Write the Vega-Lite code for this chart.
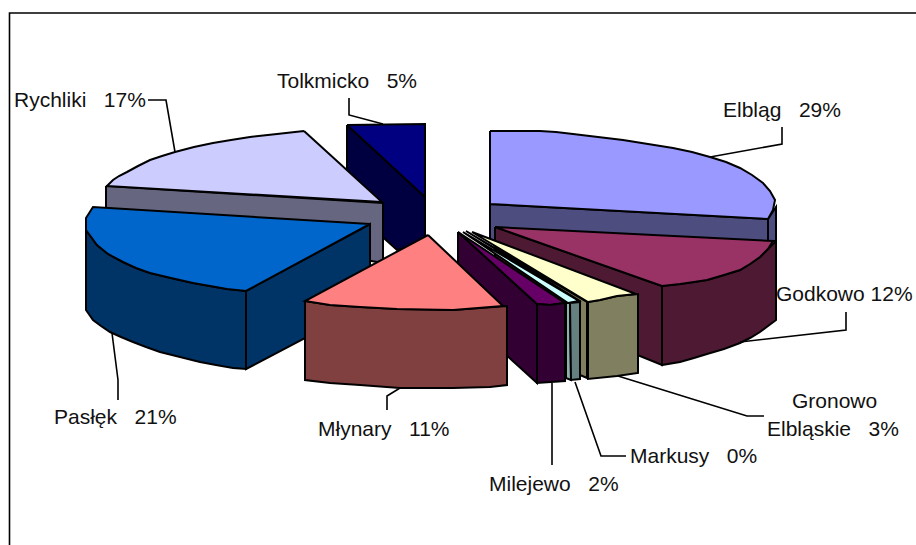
{"$schema":"https://vega.github.io/schema/vega-lite/v6.json","width":916,"height":545,"padding":0,"autosize":{"type":"fit","contains":"padding"},"background":"white","config":{"view":{"stroke":null}},
"datasets":{"faces":[
{"p":"Tolkmicko side","i":1,"x":347,"y":125},{"p":"Tolkmicko side","i":2,"x":425,"y":197},{"p":"Tolkmicko side","i":3,"x":425,"y":243},{"p":"Tolkmicko side","i":4,"x":397,"y":250},{"p":"Tolkmicko side","i":5,"x":347,"y":205},{"p":"Tolkmicko side","i":6,"x":347,"y":125},
{"p":"Tolkmicko top","i":1,"x":347,"y":125},{"p":"Tolkmicko top","i":2,"x":425,"y":124},{"p":"Tolkmicko top","i":3,"x":425,"y":197},{"p":"Tolkmicko top","i":4,"x":347,"y":125},
{"p":"Elbląg side","i":1,"x":490,"y":204},{"p":"Elbląg side","i":2,"x":768,"y":219},{"p":"Elbląg side","i":3,"x":768,"y":241},{"p":"Elbląg side","i":4,"x":490,"y":242},{"p":"Elbląg side","i":5,"x":490,"y":204},
{"p":"Elbląg right","i":1,"x":768,"y":219},{"p":"Elbląg right","i":2,"x":776,"y":207},{"p":"Elbląg right","i":3,"x":776,"y":241},{"p":"Elbląg right","i":4,"x":768,"y":241},{"p":"Elbląg right","i":5,"x":768,"y":219},
{"p":"Elbląg top","i":1,"x":490,"y":131},{"p":"Elbląg top","i":2,"x":540,"y":131},{"p":"Elbląg top","i":2.5,"x":556,"y":132},{"p":"Elbląg top","i":3,"x":573,"y":134},{"p":"Elbląg top","i":3.5,"x":598,"y":137},{"p":"Elbląg top","i":4,"x":623,"y":140},{"p":"Elbląg top","i":4.5,"x":648,"y":144},{"p":"Elbląg top","i":5,"x":673,"y":148},{"p":"Elbląg top","i":5.5,"x":692,"y":152},{"p":"Elbląg top","i":6,"x":710,"y":157},{"p":"Elbląg top","i":6.5,"x":726,"y":162},{"p":"Elbląg top","i":7,"x":740,"y":168},{"p":"Elbląg top","i":7.5,"x":752,"y":175},{"p":"Elbląg top","i":8,"x":763,"y":183},{"p":"Elbląg top","i":8.5,"x":770,"y":191},{"p":"Elbląg top","i":9,"x":775,"y":200},{"p":"Elbląg top","i":10,"x":773,"y":210},{"p":"Elbląg top","i":11,"x":768,"y":219},{"p":"Elbląg top","i":12,"x":490,"y":204},{"p":"Elbląg top","i":13,"x":490,"y":131},
{"p":"Rychliki side","i":1,"x":106,"y":186},{"p":"Rychliki side","i":2,"x":383,"y":203},{"p":"Rychliki side","i":3,"x":383,"y":263},{"p":"Rychliki side","i":4,"x":106,"y":215},{"p":"Rychliki side","i":5,"x":106,"y":186},
{"p":"Rychliki top","i":1,"x":304,"y":131},{"p":"Rychliki top","i":1.5,"x":277,"y":134},{"p":"Rychliki top","i":2,"x":250,"y":137},{"p":"Rychliki top","i":2.5,"x":231,"y":140},{"p":"Rychliki top","i":3,"x":213,"y":143},{"p":"Rychliki top","i":3.5,"x":194,"y":147},{"p":"Rychliki top","i":4,"x":175,"y":152},{"p":"Rychliki top","i":4.5,"x":162,"y":156},{"p":"Rychliki top","i":5,"x":150,"y":160},{"p":"Rychliki top","i":5.5,"x":138,"y":166},{"p":"Rychliki top","i":6,"x":127,"y":172},{"p":"Rychliki top","i":6.5,"x":119,"y":176},{"p":"Rychliki top","i":7,"x":113,"y":180},{"p":"Rychliki top","i":8,"x":107,"y":186},{"p":"Rychliki top","i":9,"x":382,"y":202},{"p":"Rychliki top","i":10,"x":304,"y":131},
{"p":"Pasłęk inner","i":1,"x":246,"y":291},{"p":"Pasłęk inner","i":2,"x":370,"y":224},{"p":"Pasłęk inner","i":3,"x":370,"y":304},{"p":"Pasłęk inner","i":4,"x":246,"y":369},{"p":"Pasłęk inner","i":5,"x":246,"y":291},
{"p":"Pasłęk outer","i":1,"x":86,"y":230},{"p":"Pasłęk outer","i":2,"x":97,"y":245},{"p":"Pasłęk outer","i":2.5,"x":108,"y":254},{"p":"Pasłęk outer","i":3,"x":123,"y":262},{"p":"Pasłęk outer","i":3.5,"x":136,"y":268},{"p":"Pasłęk outer","i":4,"x":150,"y":273},{"p":"Pasłęk outer","i":4.5,"x":171,"y":278},{"p":"Pasłęk outer","i":5,"x":193,"y":283},{"p":"Pasłęk outer","i":5.5,"x":210,"y":286},{"p":"Pasłęk outer","i":6,"x":227,"y":289},{"p":"Pasłęk outer","i":7,"x":246,"y":291},{"p":"Pasłęk outer","i":8,"x":246,"y":369},{"p":"Pasłęk outer","i":9,"x":233,"y":368},{"p":"Pasłęk outer","i":9.5,"x":216,"y":365},{"p":"Pasłęk outer","i":10,"x":200,"y":362},{"p":"Pasłęk outer","i":10.5,"x":180,"y":357},{"p":"Pasłęk outer","i":11,"x":160,"y":352},{"p":"Pasłęk outer","i":11.5,"x":146,"y":347},{"p":"Pasłęk outer","i":12,"x":133,"y":342},{"p":"Pasłęk outer","i":12.5,"x":121,"y":337},{"p":"Pasłęk outer","i":13,"x":110,"y":332},{"p":"Pasłęk outer","i":13.5,"x":101,"y":326},{"p":"Pasłęk outer","i":14,"x":93,"y":320},{"p":"Pasłęk outer","i":15,"x":86,"y":310},{"p":"Pasłęk outer","i":16,"x":86,"y":230},
{"p":"Pasłęk top","i":1,"x":370,"y":224},{"p":"Pasłęk top","i":2,"x":93,"y":207},{"p":"Pasłęk top","i":3,"x":86,"y":218},{"p":"Pasłęk top","i":4,"x":86,"y":230},{"p":"Pasłęk top","i":5,"x":97,"y":245},{"p":"Pasłęk top","i":5.5,"x":108,"y":254},{"p":"Pasłęk top","i":6,"x":123,"y":262},{"p":"Pasłęk top","i":6.5,"x":136,"y":268},{"p":"Pasłęk top","i":7,"x":150,"y":273},{"p":"Pasłęk top","i":7.5,"x":171,"y":278},{"p":"Pasłęk top","i":8,"x":193,"y":283},{"p":"Pasłęk top","i":8.5,"x":210,"y":286},{"p":"Pasłęk top","i":9,"x":227,"y":289},{"p":"Pasłęk top","i":10,"x":246,"y":291},{"p":"Pasłęk top","i":11,"x":370,"y":224},
{"p":"Godkowo left","i":1,"x":495,"y":227},{"p":"Godkowo left","i":2,"x":662,"y":286},{"p":"Godkowo left","i":3,"x":662,"y":365},{"p":"Godkowo left","i":4,"x":640,"y":356},{"p":"Godkowo left","i":5,"x":495,"y":300},{"p":"Godkowo left","i":6,"x":495,"y":227},
{"p":"Godkowo outer","i":1,"x":662,"y":286},{"p":"Godkowo outer","i":2,"x":680,"y":284},{"p":"Godkowo outer","i":2.5,"x":694,"y":282},{"p":"Godkowo outer","i":3,"x":707,"y":280},{"p":"Godkowo outer","i":3.5,"x":724,"y":275},{"p":"Godkowo outer","i":4,"x":740,"y":270},{"p":"Godkowo outer","i":4.5,"x":750,"y":264},{"p":"Godkowo outer","i":5,"x":760,"y":257},{"p":"Godkowo outer","i":5.5,"x":768,"y":249},{"p":"Godkowo outer","i":6,"x":776,"y":241},{"p":"Godkowo outer","i":7,"x":776,"y":320},{"p":"Godkowo outer","i":7.5,"x":768,"y":326},{"p":"Godkowo outer","i":8,"x":760,"y":332},{"p":"Godkowo outer","i":8.5,"x":750,"y":338},{"p":"Godkowo outer","i":9,"x":740,"y":343},{"p":"Godkowo outer","i":9.5,"x":724,"y":349},{"p":"Godkowo outer","i":10,"x":707,"y":354},{"p":"Godkowo outer","i":10.5,"x":694,"y":358},{"p":"Godkowo outer","i":11,"x":680,"y":362},{"p":"Godkowo outer","i":12,"x":662,"y":365},{"p":"Godkowo outer","i":13,"x":662,"y":286},
{"p":"Godkowo top","i":1,"x":495,"y":227},{"p":"Godkowo top","i":2,"x":773,"y":241},{"p":"Godkowo top","i":2.5,"x":768,"y":249},{"p":"Godkowo top","i":3,"x":760,"y":257},{"p":"Godkowo top","i":3.5,"x":750,"y":264},{"p":"Godkowo top","i":4,"x":740,"y":270},{"p":"Godkowo top","i":4.5,"x":724,"y":275},{"p":"Godkowo top","i":5,"x":707,"y":280},{"p":"Godkowo top","i":5.5,"x":694,"y":282},{"p":"Godkowo top","i":6,"x":680,"y":284},{"p":"Godkowo top","i":7,"x":662,"y":286},{"p":"Godkowo top","i":8,"x":495,"y":227},
{"p":"Gronowo strip","i":1,"x":466,"y":231},{"p":"Gronowo strip","i":2,"x":587,"y":302},{"p":"Gronowo strip","i":3,"x":587,"y":378},{"p":"Gronowo strip","i":4,"x":580,"y":375},{"p":"Gronowo strip","i":5,"x":580,"y":301},{"p":"Gronowo strip","i":6,"x":466,"y":231},
{"p":"Gronowo front","i":1,"x":588,"y":302},{"p":"Gronowo front","i":2,"x":600,"y":300},{"p":"Gronowo front","i":3,"x":617,"y":296},{"p":"Gronowo front","i":4,"x":638,"y":294},{"p":"Gronowo front","i":5,"x":638,"y":373},{"p":"Gronowo front","i":6,"x":617,"y":376},{"p":"Gronowo front","i":7,"x":588,"y":379},{"p":"Gronowo front","i":8,"x":588,"y":302},
{"p":"Gronowo top","i":1,"x":472,"y":232},{"p":"Gronowo top","i":2,"x":636,"y":294},{"p":"Gronowo top","i":3,"x":617,"y":296},{"p":"Gronowo top","i":4,"x":600,"y":300},{"p":"Gronowo top","i":5,"x":588,"y":302},{"p":"Gronowo top","i":6,"x":472,"y":232},
{"p":"Markusy top","i":1,"x":463,"y":232},{"p":"Markusy top","i":2,"x":579,"y":301},{"p":"Markusy top","i":3,"x":568,"y":303},{"p":"Markusy top","i":4,"x":463,"y":232},
{"p":"Markusy strip","i":1,"x":566,"y":303},{"p":"Markusy strip","i":2,"x":570,"y":303},{"p":"Markusy strip","i":3,"x":571,"y":380},{"p":"Markusy strip","i":4,"x":566,"y":378},{"p":"Markusy strip","i":5,"x":566,"y":303},
{"p":"Markusy front","i":1,"x":570,"y":303},{"p":"Markusy front","i":2,"x":580,"y":302},{"p":"Markusy front","i":3,"x":580,"y":379},{"p":"Markusy front","i":4,"x":571,"y":380},{"p":"Markusy front","i":5,"x":570,"y":303},
{"p":"Milejewo side","i":1,"x":458,"y":232},{"p":"Milejewo side","i":2,"x":537,"y":304},{"p":"Milejewo side","i":3,"x":537,"y":383},{"p":"Milejewo side","i":4,"x":458,"y":311},{"p":"Milejewo side","i":5,"x":458,"y":232},
{"p":"Milejewo top","i":1,"x":458,"y":232},{"p":"Milejewo top","i":2,"x":565,"y":303},{"p":"Milejewo top","i":3,"x":550,"y":305},{"p":"Milejewo top","i":4,"x":537,"y":304},{"p":"Milejewo top","i":5,"x":458,"y":232},
{"p":"Milejewo front","i":1,"x":537,"y":304},{"p":"Milejewo front","i":2,"x":550,"y":305},{"p":"Milejewo front","i":3,"x":565,"y":303},{"p":"Milejewo front","i":4,"x":565,"y":381},{"p":"Milejewo front","i":5,"x":537,"y":383},{"p":"Milejewo front","i":6,"x":537,"y":304},
{"p":"Młynary side","i":1,"x":305,"y":301},{"p":"Młynary side","i":2,"x":330,"y":305},{"p":"Młynary side","i":3,"x":360,"y":307},{"p":"Młynary side","i":4,"x":397,"y":309},{"p":"Młynary side","i":5,"x":453,"y":310},{"p":"Młynary side","i":6,"x":507,"y":306},{"p":"Młynary side","i":7,"x":507,"y":385},{"p":"Młynary side","i":8,"x":490,"y":387},{"p":"Młynary side","i":9,"x":453,"y":388},{"p":"Młynary side","i":10,"x":400,"y":388},{"p":"Młynary side","i":11,"x":360,"y":385},{"p":"Młynary side","i":12,"x":330,"y":383},{"p":"Młynary side","i":13,"x":305,"y":380},{"p":"Młynary side","i":14,"x":305,"y":301},
{"p":"Młynary top","i":1,"x":428,"y":235},{"p":"Młynary top","i":2,"x":305,"y":301},{"p":"Młynary top","i":3,"x":330,"y":305},{"p":"Młynary top","i":4,"x":360,"y":307},{"p":"Młynary top","i":5,"x":397,"y":309},{"p":"Młynary top","i":6,"x":453,"y":310},{"p":"Młynary top","i":7,"x":503,"y":306},{"p":"Młynary top","i":8,"x":428,"y":235}
],
"leaders":[
{"p":"frame","i":1,"x":9.5,"y":545},{"p":"frame","i":2,"x":9.5,"y":13},{"p":"frame","i":3,"x":916,"y":13},
{"p":"Elbląg","i":1,"x":710,"y":157},{"p":"Elbląg","i":2,"x":782,"y":144},{"p":"Elbląg","i":3,"x":782,"y":127},
{"p":"Godkowo","i":1,"x":740,"y":342},{"p":"Godkowo","i":2,"x":846,"y":330},{"p":"Godkowo","i":3,"x":846,"y":312},
{"p":"Gronowo","i":1,"x":618,"y":376},{"p":"Gronowo","i":2,"x":747,"y":416},{"p":"Gronowo","i":3,"x":764,"y":416},
{"p":"Markusy","i":1,"x":575,"y":382},{"p":"Markusy","i":2,"x":601,"y":456},{"p":"Markusy","i":3,"x":626,"y":456},
{"p":"Milejewo","i":1,"x":552,"y":383},{"p":"Milejewo","i":2,"x":552,"y":465},
{"p":"Młynary","i":1,"x":400,"y":388},{"p":"Młynary","i":2,"x":387,"y":396},{"p":"Młynary","i":3,"x":387,"y":410},
{"p":"Pasłęk","i":1,"x":112,"y":333},{"p":"Pasłęk","i":2,"x":118,"y":380},{"p":"Pasłęk","i":3,"x":118,"y":400},
{"p":"Rychliki","i":1,"x":175,"y":152},{"p":"Rychliki","i":2,"x":166,"y":100},{"p":"Rychliki","i":3,"x":148,"y":100},
{"p":"Tolkmicko","i":1,"x":383,"y":124},{"p":"Tolkmicko","i":2,"x":349,"y":115},{"p":"Tolkmicko","i":3,"x":349,"y":98}
],
"labels":[
{"t":"Elbląg\u00a0\u00a0\u00a029%","x":723,"y":111},
{"t":"Godkowo 12%","x":776,"y":295},
{"t":"Gronowo","x":792,"y":402},
{"t":"Elbląskie\u00a0\u00a0\u00a03%","x":767,"y":430},
{"t":"Markusy\u00a0\u00a0\u00a00%","x":630,"y":457},
{"t":"Milejewo\u00a0\u00a0\u00a02%","x":489,"y":485},
{"t":"Młynary\u00a0\u00a0\u00a011%","x":318,"y":430},
{"t":"Pasłęk\u00a0\u00a0\u00a021%","x":54,"y":418},
{"t":"Rychliki\u00a0\u00a0\u00a017%","x":14,"y":101},
{"t":"Tolkmicko\u00a0\u00a0\u00a05%","x":277,"y":82}
]},
"layer":[
{"data":{"name":"faces"},"mark":{"type":"line","filled":true,"stroke":"black","strokeWidth":2,"strokeJoin":"miter"},
"encoding":{"x":{"field":"x","type":"quantitative","scale":{"domain":[0,916],"nice":false,"zero":false},"axis":null},"y":{"field":"y","type":"quantitative","scale":{"domain":[545,0],"nice":false,"zero":false},"axis":null},"order":{"field":"i","type":"quantitative"},
"color":{"field":"p","type":"nominal","legend":null,"sort":null,"scale":{
"domain":["Tolkmicko side","Tolkmicko top","Elbląg side","Elbląg right","Elbląg top","Rychliki side","Rychliki top","Pasłęk inner","Pasłęk outer","Pasłęk top","Godkowo left","Godkowo outer","Godkowo top","Gronowo strip","Gronowo front","Gronowo top","Markusy top","Markusy strip","Markusy front","Milejewo side","Milejewo top","Milejewo front","Młynary side","Młynary top"],
"range":["#000040","#000080","#4D4D80","#4D4D80","#9999FF","#666680","#CCCCFF","#003366","#003366","#0066CC","#4D1933","#4D1933","#993366","#808060","#808060","#FFFFCC","#CCFFFF","#8FB0B0","#668080","#330033","#660066","#330033","#804040","#FF8080"]}}}},
{"data":{"name":"leaders"},"mark":{"type":"line","strokeWidth":1.6,"color":"black","clip":true},
"encoding":{"x":{"field":"x","type":"quantitative"},"y":{"field":"y","type":"quantitative"},"order":{"field":"i","type":"quantitative"},"detail":{"field":"p","type":"nominal"}}},
{"data":{"name":"labels"},"mark":{"type":"text","align":"left","baseline":"middle","font":"Liberation Sans","fontSize":21,"color":"#111"},
"encoding":{"x":{"field":"x","type":"quantitative"},"y":{"field":"y","type":"quantitative"},"text":{"field":"t","type":"nominal"}}}
]}
